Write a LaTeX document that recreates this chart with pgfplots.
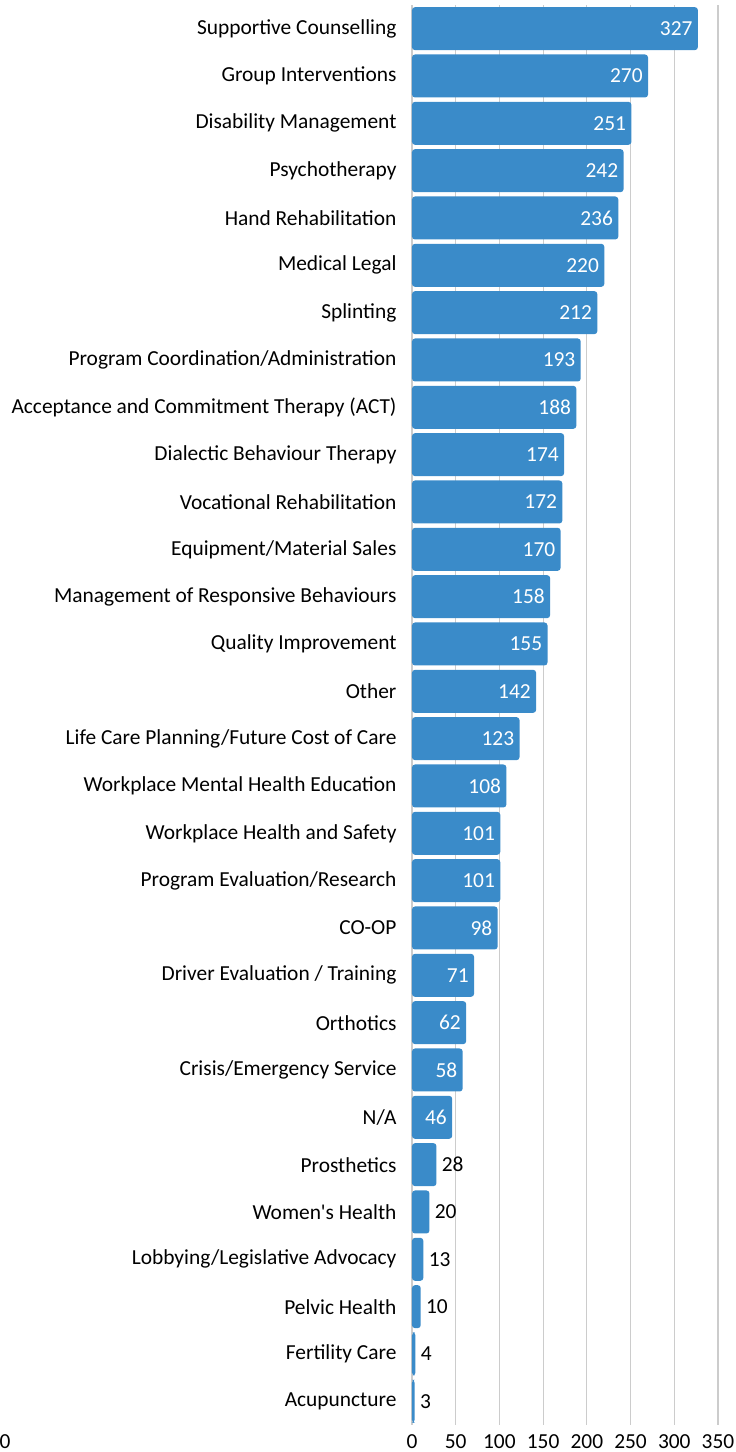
\documentclass[border=0pt]{standalone}
\usepackage{fontspec}
\setmainfont{Carlito}
\usepackage{pgfplots}
\usepackage{pgfplotstable}
\pgfplotsset{compat=1.18}
\definecolor{barblue}{RGB}{58,139,201}
\pgfplotstableread{
y v
6 46
7 58
8 62
9 71
10 98
11 101
12 101
13 108
14 123
15 142
16 155
17 158
18 170
19 172
20 174
21 188
22 193
23 212
24 220
25 236
26 242
27 251
28 270
29 327
}\bigdata
\pgfplotstableread{
y v
0 3
1 4
2 10
3 13
4 20
5 28
}\smalldata
\begin{document}
\fontsize{10.7}{12.7}\selectfont
\begin{tikzpicture}
\begin{axis}[
 xbar, scale only axis, width=153pt, height=710pt,
 xmin=0, xmax=350, ymin=-0.5, ymax=29.5,
 xtick={0,50,...,350}, ytick={0,...,29},
 yticklabels={{Acupuncture},{Fertility Care},{Pelvic Health},{Lobbying/Legislative Advocacy},{Women\textquotesingle s Health},{Prosthetics},{N/A},{Crisis/Emergency Service},{Orthotics},{Driver Evaluation / Training},{CO-OP},{Program Evaluation/Research},{Workplace Health and Safety},{Workplace Mental Health Education},{Life Care Planning/Future Cost of Care},{Other},{Quality Improvement},{Management of Responsive Behaviours},{Equipment/Material Sales},{Vocational Rehabilitation},{Dialectic Behaviour Therapy},{Acceptance and Commitment Therapy (ACT)},{Program Coordination/Administration},{Splinting},{Medical Legal},{Hand Rehabilitation},{Psychotherapy},{Disability Management},{Group Interventions},{Supportive Counselling}},
 axis line style={draw=none}, major tick length=0pt,
 xmajorgrids, ymajorgrids=false,
 grid style={draw=black!20, line width=0.6pt},
 bar width=21.5pt, bar shift=0pt,
 tick label style={font=\fontsize{10.7}{12.7}\selectfont, text=black},
 /pgf/number format/assume math mode=true,
 yticklabel style={xshift=-4pt},
 xticklabel style={yshift=-1pt},
 clip=false,
]
\addplot[fill=barblue, draw=none, rounded corners=1.5pt,
  nodes near coords, point meta=x,
  nodes near coords style={anchor=east, text=white, inner sep=2.5pt, font=\fontsize{10.7}{12.7}\selectfont, /pgf/number format/assume math mode=true}]
  table[x=v, y=y] {\bigdata};
\addplot[fill=barblue, draw=none, rounded corners=1.5pt,
  nodes near coords, point meta=x,
  nodes near coords style={anchor=west, text=black, inner sep=2.5pt, font=\fontsize{10.7}{12.7}\selectfont, /pgf/number format/assume math mode=true}]
  table[x=v, y=y] {\smalldata};
\node[anchor=north, inner sep=0.333em, yshift=-1pt, xshift=-203.5pt, font=\fontsize{10.7}{12.7}\selectfont] at (axis cs:0,-0.5) {0};
\end{axis}
\pgfresetboundingbox
\path[use as bounding box] ([xshift=-206pt,yshift=2.5pt]current axis.north west) rectangle ++(367.5pt,-726pt);
\end{tikzpicture}
\end{document}
